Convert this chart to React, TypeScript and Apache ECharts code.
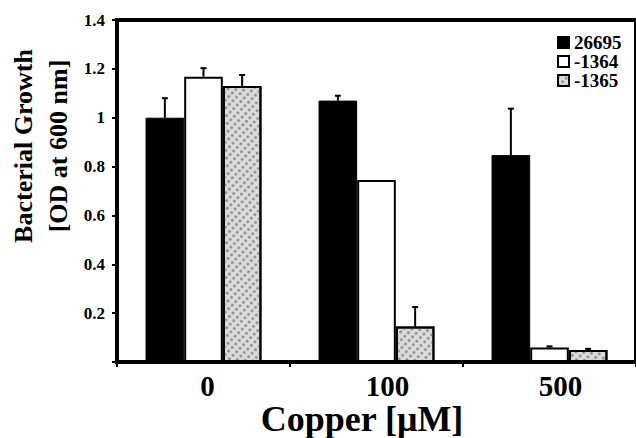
import React, { useEffect, useRef } from "react";
import * as echarts from "echarts";

const categories = ["0", "100", "500"];
const seriesNames = ["26695", "-1364", "-1365"];
const values26695 = [1.0, 1.07, 0.847];
const values1364 = [1.168, 0.745, 0.059];
const values1365 = [1.13, 0.145, 0.049];
const err26695 = [0.08, 0.02, 0.19];
const err1364 = [0.035, 0, 0.005];
const err1365 = [0.045, 0.08, 0.005];
const yTicks = [0, 0.2, 0.4, 0.6, 0.8, 1, 1.2, 1.4];

const FONT = "'Liberation Serif', 'Times New Roman', serif";
const GAP = 0.33;

export default function App() {
  const ref = useRef<HTMLDivElement>(null);
  useEffect(() => {
    if (!ref.current) return;
    const chart = echarts.init(ref.current, null, { renderer: "svg" });
    const allVals = [values26695, values1364, values1365];
    const allErrs = [err26695, err1364, err1365];
    const errData: number[][] = [];
    allVals.forEach((vals, s) => {
      vals.forEach((v, i) => {
        errData.push([i, v, allErrs[s][i], s]);
      });
    });
    const barCommon = {
      type: "bar",
      barGap: "0%",
      barCategoryGap: GAP * 100 + "%",
    };
    const labelStyle = {
      fontFamily: FONT,
      fontWeight: "bold",
      fontSize: 29,
      color: "#000",
    };
    chart.setOption({
      animation: false,
      backgroundColor: "#ffffff",
      grid: {
        left: 117,
        top: 20,
        width: 528,
        height: 342,
        show: true,
        borderColor: "#000",
        borderWidth: 4,
        backgroundColor: "transparent",
      },
      legend: {
        left: 552,
        top: 28,
        orient: "vertical",
        icon: "rect",
        itemWidth: 11,
        itemHeight: 11,
        itemGap: 0,
        data: seriesNames,
        textStyle: {
          fontFamily: FONT,
          fontWeight: "bold",
          fontSize: 19,
          color: "#000",
        },
      },
      xAxis: {
        type: "category",
        data: categories,
        axisLine: { lineStyle: { color: "#000", width: 3 } },
        axisTick: { show: true, length: 5, lineStyle: { color: "#000", width: 2 } },
        axisLabel: {
          margin: 9,
          formatter: (v: string) => (v === "0" ? `{p0| }{a|${v}}` : `{p1| }{a|${v}}`),
          rich: {
            a: labelStyle,
            p0: { ...labelStyle, width: 8 },
            p1: { ...labelStyle, width: 22 },
          },
        },
      },
      yAxis: {
        type: "value",
        min: yTicks[0],
        max: yTicks[yTicks.length - 1],
        interval: 0.2,
        splitLine: { show: false },
        axisLine: { show: true, lineStyle: { color: "#000", width: 4 } },
        axisTick: { show: true, length: 5, lineStyle: { color: "#000", width: 2 } },
        axisLabel: {
          margin: 12,
          fontFamily: FONT,
          fontWeight: "bold",
          fontSize: 17,
          color: "#000",
          formatter: (v: number) => (v === 0 ? "" : String(Math.round(v * 10) / 10)),
        },
      },
      series: [
        {
          ...barCommon,
          name: seriesNames[0],
          data: values26695,
          itemStyle: { color: "#000", borderColor: "#000", borderWidth: 1 },
        },
        {
          ...barCommon,
          name: seriesNames[1],
          data: values1364,
          itemStyle: { color: "#fff", borderColor: "#000", borderWidth: 2 },
        },
        {
          ...barCommon,
          name: seriesNames[2],
          data: values1365,
          itemStyle: {
            color: "#dcdcdc",
            borderColor: "#000",
            borderWidth: 2,
            decal: {
              symbol: "circle",
              symbolSize: 1,
              color: "#8c8c8c",
              dashArrayX: [4, 2],
              dashArrayY: [3, 2],
              rotation: Math.PI / 4,
            },
          },
        },
        {
          type: "custom",
          name: "err",
          data: errData,
          encode: { x: 0, y: 1 },
          z: 10,
          renderItem: (params: any, api: any) => {
            const cat = api.value(0);
            const v = api.value(1);
            const e = api.value(2);
            const s = api.value(3);
            if (!e) return null;
            const base = api.coord([cat, v]);
            const top = api.coord([cat, v + e]);
            const band = api.size([1, 0])[0];
            const bw = (band * (1 - GAP)) / 3;
            const x = base[0] + (s - 1) * bw;
            return {
              type: "group",
              children: [
                {
                  type: "line",
                  shape: { x1: x, y1: base[1], x2: x, y2: top[1] },
                  style: { stroke: "#000", lineWidth: 2 },
                },
                {
                  type: "line",
                  shape: { x1: x - 3, y1: top[1], x2: x + 3, y2: top[1] },
                  style: { stroke: "#000", lineWidth: 2 },
                },
              ],
            };
          },
        },
      ],
      graphic: [
        {
          type: "text",
          x: 23,
          y: 146,
          rotation: Math.PI / 2,
          style: {
            text: "Bacterial Growth",
            fontFamily: FONT,
            fontWeight: "bold",
            fontSize: 26,
            fill: "#000",
            align: "center",
            verticalAlign: "middle",
          },
        },
        {
          type: "text",
          x: 58,
          y: 146,
          rotation: Math.PI / 2,
          style: {
            text: "[OD at 600 nm]",
            fontFamily: FONT,
            fontWeight: "bold",
            fontSize: 26,
            fill: "#000",
            align: "center",
            verticalAlign: "middle",
          },
        },
        {
          type: "text",
          x: 362,
          y: 419,
          style: {
            text: "Copper [μM]",
            fontFamily: FONT,
            fontWeight: "bold",
            fontSize: 36,
            fill: "#000",
            align: "center",
            verticalAlign: "middle",
          },
        },
      ],
    });
    return () => chart.dispose();
  }, []);
  return (
    <div
      ref={ref}
      style={{ position: "fixed", left: 0, top: 0, width: 636, height: 438, background: "#fff" }}
    />
  );
}
